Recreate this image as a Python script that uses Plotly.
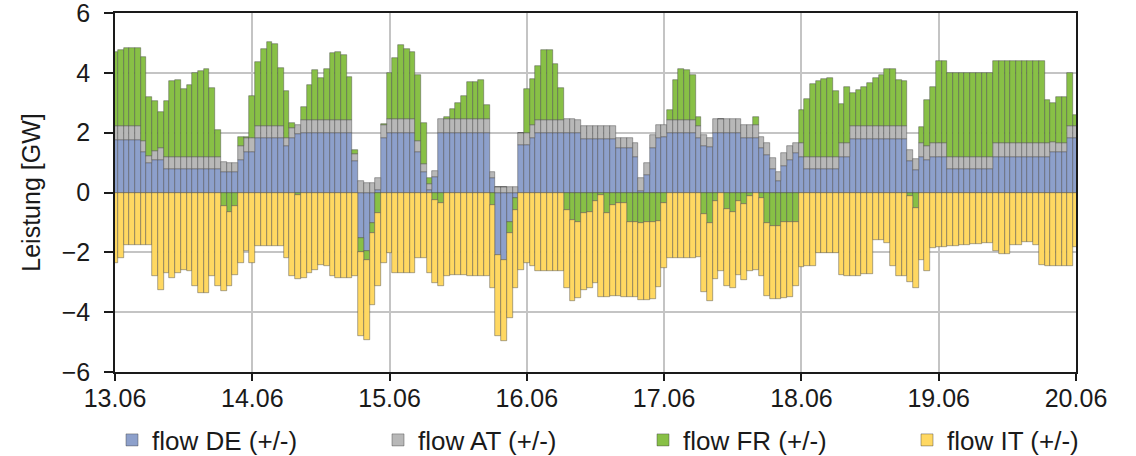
import plotly.graph_objects as go

# hourly values, 13.06 00:00 ... 20.06 00:00 (169 hours), GW
flow_DE = (
    [1.76, 1.76, 1.76, 1.76, 1.76, 1.37, 1.0, 1.1, 1.1, 0.78, 0.78, 0.78, 0.78, 0.78, 0.78, 0.78, 0.78, 0.78, 0.78, 0.7, 0.68, 0.68, 1.1, 1.37]
    + [1.37, 1.82, 1.82, 1.82, 1.82, 1.82, 1.54, 1.82, 1.96, 2.0, 2.0, 2.0, 2.0, 2.0, 2.0, 2.0, 2.0, 2.0, 1.04, -1.53, -1.97, -1.03, 0.08, 1.82]
    + [2.0, 2.0, 2.0, 2.0, 2.0, 1.34, 0.7, 0.1, 0.53, 2.0, 2.0, 2.0, 2.0, 2.0, 2.0, 2.0, 2.0, 2.0, 0.5, -2.08, -2.25, -0.97, -0.2, 1.6]
    + [1.6, 1.82, 2.0, 2.0, 2.0, 2.0, 2.0, 2.0, 2.0, 2.0, 1.78, 1.78, 1.78, 1.78, 1.78, 1.78, 1.48, 1.48, 1.48, 1.2, 0.05, 0.6, 1.48, 1.82]
    + [1.85, 2.0, 2.0, 2.0, 2.0, 2.0, 1.82, 1.54, 1.52, 2.0, 2.0, 2.0, 2.0, 2.0, 1.82, 1.82, 1.82, 1.48, 1.26, 0.78, 0.37, 0.87, 1.09, 1.31]
    + [1.2, 0.78, 0.78, 0.78, 0.78, 0.78, 0.78, 1.2, 1.2, 1.78, 1.78, 1.78, 1.78, 1.78, 1.78, 1.78, 1.78, 1.78, 1.78, 1.04, 0.76, 1.2, 1.09, 1.2]
    + [1.2, 1.2, 0.78, 0.78, 0.78, 0.78, 0.78, 0.78, 0.78, 0.78, 1.2, 1.2, 1.2, 1.2, 1.2, 1.2, 1.2, 1.2, 1.2, 1.2, 1.37, 1.34, 1.34, 1.82, 1.82]
)

flow_AT = (
    [0.45, 0.45, 0.45, 0.45, 0.45, 0.35, 0.22, 0.3, 0.4, 0.42, 0.42, 0.42, 0.42, 0.42, 0.42, 0.42, 0.42, 0.42, 0.42, 0.33, 0.32, 0.32, 0.45, 0.45]
    + [0.45, 0.41, 0.41, 0.41, 0.41, 0.41, 0.28, 0.33, 0.3, 0.42, 0.42, 0.42, 0.42, 0.42, 0.42, 0.42, 0.42, 0.42, 0.25, 0.4, 0.33, 0.33, 0.4, 0.45]
    + [0.45, 0.45, 0.45, 0.45, 0.45, 0.37, 0.26, 0.17, 0.2, 0.45, 0.45, 0.45, 0.45, 0.45, 0.45, 0.45, 0.45, 0.45, 0.17, 0.2, 0.2, 0.2, 0.2, 0.38]
    + [0.4, 0.42, 0.42, 0.42, 0.42, 0.42, 0.42, 0.45, 0.45, 0.43, 0.45, 0.45, 0.45, 0.45, 0.45, 0.45, 0.34, 0.34, 0.34, 0.45, 0.43, 0.4, 0.45, 0.44]
    + [0.42, 0.43, 0.43, 0.43, 0.43, 0.43, 0.4, 0.39, 0.3, 0.45, 0.45, 0.45, 0.45, 0.45, 0.44, 0.44, 0.44, 0.39, 0.41, 0.37, 0.3, 0.44, 0.45, 0.36]
    + [0.45, 0.42, 0.42, 0.42, 0.42, 0.42, 0.42, 0.45, 0.45, 0.45, 0.45, 0.45, 0.45, 0.45, 0.45, 0.45, 0.45, 0.45, 0.45, 0.39, 0.35, 0.45, 0.45, 0.45]
    + [0.45, 0.45, 0.42, 0.42, 0.42, 0.42, 0.42, 0.42, 0.42, 0.42, 0.45, 0.45, 0.45, 0.45, 0.45, 0.45, 0.45, 0.45, 0.45, 0.45, 0.33, 0.33, 0.33, 0.4, 0.4]
)

flow_FR = (
    [2.49, 2.57, 2.61, 2.61, 2.61, 2.8, 1.98, 1.67, 1.18, 1.87, 2.53, 2.57, 2.25, 2.4, 2.8, 2.87, 2.92, 2.29, 0.89, -0.45, -0.65, -0.45, 0.29, 0.02]
    + [1.41, 2.12, 2.56, 2.79, 2.73, 1.93, 1.56, 0.17, -0.08, 0.45, 1.18, 1.68, 1.4, 1.7, 2.24, 2.26, 2.18, 1.43, 0.14, -0.45, -0.28, -0.33, -0.7, 0.01]
    + [1.54, 2.04, 2.49, 2.34, 2.26, 2.22, 1.36, 0.21, -0.25, -0.36, 0.07, 0.33, 0.53, 0.78, 1.26, 1.23, 1.32, 0.46, -0.41, 0.0, 0.0, -0.39, -0.39, 0.0]
    + [1.45, 1.55, 1.81, 2.33, 2.33, 1.88, 1.07, -0.58, -0.91, -0.97, -0.69, -0.64, -0.3, -0.1, -0.67, -0.41, -0.36, -0.36, -0.97, -1.0, -1.03, -1.0, -1.0, -0.95]
    + [-0.36, 0.33, 1.34, 1.69, 1.67, 1.5, 0.3, -0.71, -1.03, -0.3, 0.0, -0.56, -0.64, -0.3, -0.38, -0.12, 0.28, -0.19, -1.03, -1.11, -1.11, -0.97, -0.97, -0.97]
    + [1.11, 1.92, 2.43, 2.54, 2.59, 2.62, 2.18, 1.31, 1.89, 1.11, 1.18, 1.31, 1.42, 1.59, 1.7, 1.89, 1.89, 1.54, 1.51, -0.13, -0.52, 0.55, 1.56, 1.89]
    + [2.73, 2.73, 2.81, 2.81, 2.81, 2.81, 2.81, 2.81, 2.81, 2.81, 2.73, 2.73, 2.73, 2.73, 2.73, 2.73, 2.73, 2.73, 2.73, 1.45, 1.3, 1.52, 1.52, 1.77, 0.38]
)

flow_IT = (
    [-2.34, -2.2, -1.75, -1.75, -1.75, -1.75, -1.75, -2.8, -3.25, -2.7, -2.86, -2.7, -2.6, -2.64, -3.14, -3.36, -3.36, -2.8, -3.14, -2.84, -2.47, -2.3, -2.36, -1.97]
    + [-2.36, -1.8, -1.8, -1.8, -1.8, -1.8, -2.2, -2.8, -2.82, -2.86, -2.7, -2.58, -2.42, -2.47, -2.8, -2.86, -2.86, -2.86, -2.8, -2.81, -2.67, -2.39, -2.44, -2.36]
    + [-2.03, -2.7, -2.7, -2.7, -2.7, -2.2, -2.2, -2.7, -2.78, -2.78, -2.8, -2.75, -2.75, -2.75, -2.8, -2.8, -2.8, -2.8, -2.79, -2.71, -2.71, -2.84, -2.61, -2.58]
    + [-2.36, -2.47, -2.64, -2.64, -2.64, -2.64, -2.64, -2.62, -2.7, -2.56, -2.56, -2.56, -2.73, -3.4, -2.83, -3.04, -3.09, -3.14, -2.53, -2.5, -2.57, -2.6, -2.55, -2.2]
    + [-2.17, -2.2, -2.2, -2.2, -2.2, -2.2, -2.14, -2.63, -2.58, -2.6, -2.64, -2.56, -2.56, -2.45, -2.56, -2.52, -2.58, -2.61, -2.42, -2.46, -2.46, -2.56, -2.53, -2.15]
    + [-2.5, -2.47, -2.47, -2.03, -2.03, -2.03, -2.03, -2.75, -2.79, -2.79, -2.79, -2.73, -2.73, -1.6, -1.6, -1.69, -2.47, -2.8, -2.8, -2.87, -2.68, -2.27, -2.64, -1.86]
    + [-1.83, -1.83, -1.8, -1.8, -1.75, -1.75, -1.73, -1.72, -1.7, -1.7, -1.97, -2.05, -2.05, -1.75, -1.75, -1.64, -1.64, -1.75, -2.42, -2.45, -2.45, -2.45, -2.45, -2.45, -1.83]
)

hours = list(range(len(flow_DE)))
day_ticks = [0, 24, 48, 72, 96, 120, 144, 168]
day_labels = ["13.06", "14.06", "15.06", "16.06", "17.06", "18.06", "19.06", "20.06"]
y_ticks = [-6, -4, -2, 0, 2, 4, 6]

series = [
    ("flow DE (+/-)", flow_DE, "#8DA0CB", "legend", 112),
    ("flow AT (+/-)", flow_AT, "#B8B8B8", "legend2", 378),
    ("flow FR (+/-)", flow_FR, "#88C046", "legend3", 643),
    ("flow IT (+/-)", flow_IT, "#FFD862", "legend4", 907),
]

FONT = "Liberation Sans, Arial, sans-serif"
INK = "#1a1a1a"
W, H = 1136, 456

fig = go.Figure()
for name, vals, col, leg, _ in series:
    fig.add_trace(go.Bar(
        x=hours, y=vals, width=1, name=name, legend=leg, showlegend=True,
        marker=dict(color=col, line=dict(color="rgba(70,70,70,0.75)", width=0.6)),
    ))

layout_legends = {}
for name, vals, col, leg, px in series:
    layout_legends[leg] = dict(
        x=px / W, xref="container", xanchor="left",
        y=1 - 440 / H, yref="container", yanchor="middle",
        orientation="h", bgcolor="rgba(0,0,0,0)",
        font=dict(family=FONT, size=26, color=INK),
    )

fig.update_layout(
    width=W, height=H,
    showlegend=True,
    barmode="relative", bargap=0,
    plot_bgcolor="white", paper_bgcolor="white",
    margin=dict(l=115, r=60, t=13, b=84, autoexpand=False),
    font=dict(family=FONT, size=25, color=INK),
    **layout_legends,
)
fig.update_xaxes(
    range=[0, 168], tickvals=day_ticks, ticktext=day_labels,
    showgrid=True, gridcolor="#c4c4c4", gridwidth=1.5,
    showline=True, linecolor=INK, linewidth=1.5, mirror=True,
    ticks="outside", ticklen=7, tickwidth=1.5, tickcolor=INK,
    ticklabelstandoff=-4, ticklabeloverflow="allow",
    tickfont=dict(family=FONT, size=25, color=INK),
    zeroline=False,
)
fig.update_yaxes(
    range=[-6, 6], tickvals=y_ticks,
    showgrid=True, gridcolor="#c4c4c4", gridwidth=1.5,
    showline=True, linecolor=INK, linewidth=1.5, mirror=True,
    ticks="outside", ticklen=9, tickwidth=1.5, tickcolor=INK,
    ticklabelstandoff=9, ticklabeloverflow="allow",
    tickfont=dict(family=FONT, size=25, color=INK),
    zeroline=False,
    title=dict(text="Leistung [GW]", standoff=14, font=dict(family=FONT, size=25, color=INK)),
)

fig.write_html("out.html")
